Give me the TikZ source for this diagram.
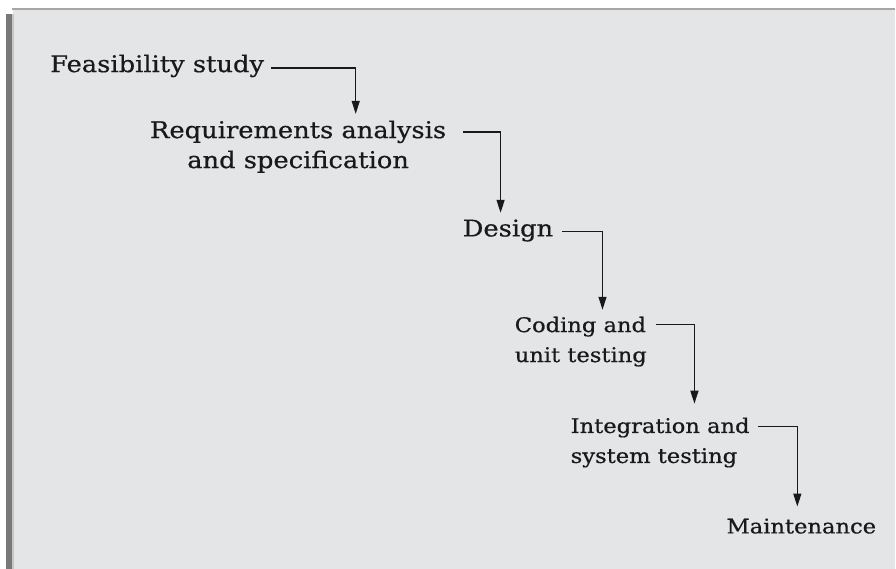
\documentclass[tikz,border=0pt]{standalone}
\usepackage{fontspec}
\setmainfont[FakeStretch=1.12, FakeBold=0.6]{DejaVu Serif}
\usetikzlibrary{arrows.meta}

\definecolor{panel}{RGB}{228,229,231}
\definecolor{edge}{RGB}{120,120,120}
\definecolor{ink}{RGB}{25,25,25}

\tikzset{
  phase/.style={anchor=north west, inner sep=0pt, align=left, text=ink,
    font=\fontsize{23}{30}\selectfont},
  late/.style={phase, font=\fontsize{20.2}{30}\selectfont},
  flow/.style={draw=ink, line width=1.3pt, -{Triangle[length=13pt,width=8pt]}}
}

\begin{document}
\begin{tikzpicture}[x=1pt,y=-1pt]
  % Panel with its border
  \fill[white] (0,0) rectangle (896,569);
  \fill[panel] (13,10) rectangle (896,569);
  \draw[gray!70, line width=1.5pt] (12,9) -- (896,9);
  \fill[edge] (6,14) rectangle (13,569);
  \fill[gray!45] (12,14) rectangle (14,569);

  % Phases
  \node[phase] (fs) at (50,54.5) {Feasibility study};
  \node[phase, align=center] (req) at (150,120.5) {Requirements analysis\\and specification};
  \node[phase] (des) at (463,219.5) {Design};
  \node[late] (cod) at (515,316.8) {Coding and\\unit testing};
  \node[late] (int) at (571,417.8) {Integration and\\system testing};
  \node[late] (mai) at (727,518.8) {Maintenance};

  % Steps down the waterfall
  \draw[flow] ([shift={(7,13.5)}]fs.north east) -| ([shift={(206,-6.5)}]req.north west);
  \draw[flow] ([shift={(17,11.5)}]req.north east) -| ([shift={(38,-6.5)}]des.north west);
  \draw[flow] ([shift={(9,12.5)}]des.north east) -| ([shift={(88,-6.8)}]cod.north west);
  \draw[flow] ([shift={(9,8.2)}]cod.north east) -| ([shift={(124,-13.8)}]int.north west);
  \draw[flow] ([shift={(8,9.2)}]int.north east) -| ([shift={(71,-11.8)}]mai.north west);
\end{tikzpicture}
\end{document}
